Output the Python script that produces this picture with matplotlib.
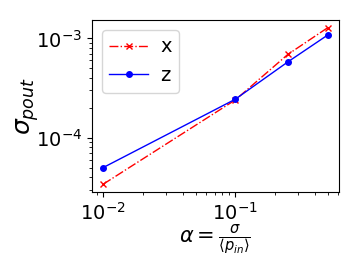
import matplotlib
matplotlib.use("Agg")
import matplotlib.pyplot as plt

alpha = [0.01, 0.1, 0.25, 0.5]
sigma_x = [3.4e-5, 2.4e-4, 6.9e-4, 1.28e-3]
sigma_z = [5.0e-5, 2.44e-4, 5.8e-4, 1.08e-3]


def main():
    fig = plt.figure(figsize=(3.59, 2.69), dpi=100)
    ax = fig.add_axes([0.256, 0.286, 0.688, 0.64])
    ax.plot(alpha, sigma_x, 'r-.x', label='x', linewidth=1, markersize=5)
    ax.plot(alpha, sigma_z, 'b-o', label='z', linewidth=1, markersize=4)
    ax.set_xscale('log')
    ax.set_yscale('log')
    ax.set_xlabel(r'$\alpha = \frac{\sigma}{\langle p_{in}\rangle}$', fontsize=15)
    ax.set_ylabel(r'$\sigma_{pout}$', fontsize=18)
    ax.xaxis.set_label_coords(0.5, -0.175)
    ax.yaxis.set_label_coords(-0.205, 0.5)
    ax.tick_params(labelsize=14)
    ax.legend(loc='upper left', fontsize=14, handlelength=2.0, handletextpad=0.6)
    fig.savefig('out.png', dpi=100)


if __name__ == "__main__":
    main()
